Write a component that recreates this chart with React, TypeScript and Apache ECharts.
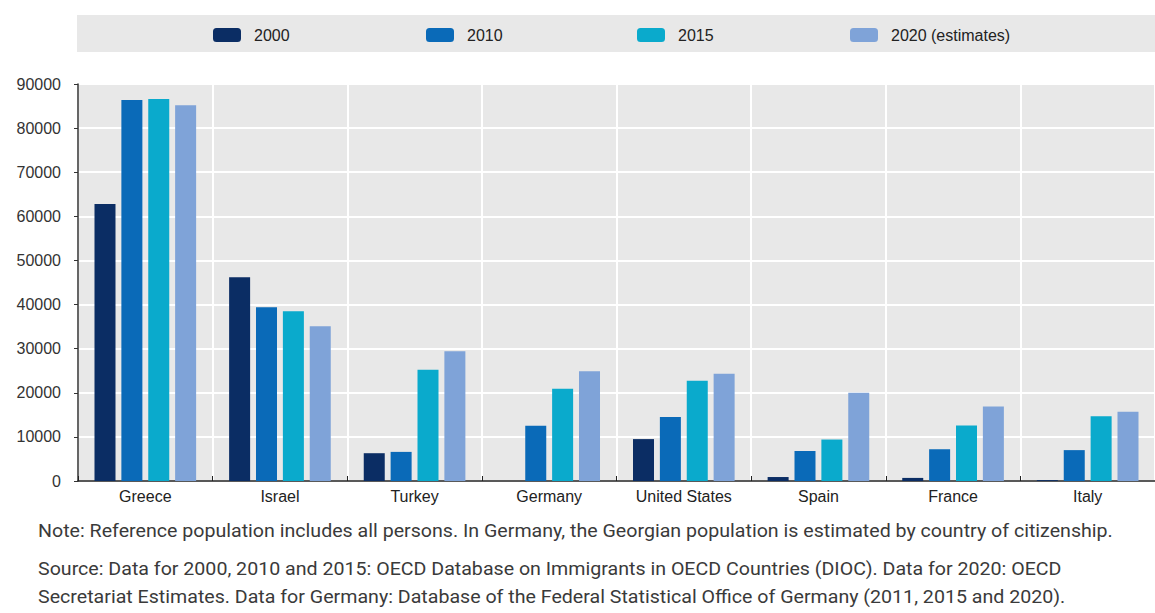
import React, { useEffect, useRef } from "react";
import * as echarts from "echarts";

const categories = ["Greece", "Israel", "Turkey", "Germany", "United States", "Spain", "France", "Italy"];
const seriesNames = ["2000", "2010", "2015", "2020 (estimates)"];
const v2000 = [62800, 46200, 6300, 0, 9500, 900, 700, 200];
const v2010 = [86400, 39400, 6600, 12500, 14500, 6800, 7200, 7000];
const v2015 = [86600, 38500, 25200, 20900, 22700, 9400, 12600, 14700];
const v2020 = [85200, 35100, 29400, 24900, 24300, 20000, 16900, 15700];
const colors = ["#0b2d64", "#0a6ab8", "#0aaacc", "#7fa3d8"];
const noteLines = [
  "Note: Reference population includes all persons. In Germany, the Georgian population is estimated by country of citizenship.",
  "Source: Data for 2000, 2010 and 2015: OECD Database on Immigrants in OECD Countries (DIOC). Data for 2020: OECD",
  "Secretariat Estimates. Data for Germany: Database of the Federal Statistical Office of Germany (2011, 2015 and 2020).",
];

const SANS = "'Liberation Sans', Arial, sans-serif";

export default function App() {
  const ref = useRef<HTMLDivElement>(null);
  useEffect(() => {
    if (!ref.current) return;
    const chart = echarts.init(ref.current, null, { renderer: "svg" });
    const values = [v2000, v2010, v2015, v2020];
    const legendLefts = [213, 426, 637, 850];
    chart.setOption({
      animation: false,
      backgroundColor: "#ffffff",
      color: colors,
      graphic: [
        { type: "rect", left: 77, top: 15, shape: { width: 1078, height: 37 }, style: { fill: "#e8e8e8" }, z: -10 },
        ...noteLines.map((t, i) => ({
          type: "text",
          x: 38,
          y: [531, 569, 597][i],
          scaleX: 1.09,
          style: { text: t, font: "18px Roboto", fill: "#3a3a3a", textVerticalAlign: "middle" },
        })),
      ],
      legend: seriesNames.map((n, i) => ({
        data: [n],
        left: legendLefts[i],
        top: 27,
        padding: 0,
        itemWidth: 28,
        itemHeight: 14,
        itemStyle: { borderWidth: 0 },
        textStyle: { fontFamily: SANS, fontSize: 16, color: "#222", padding: [0, 0, 0, 8] },
      })),
      grid: {
        left: 78,
        right: 0,
        top: 84,
        bottom: 132,
        show: true,
        backgroundColor: "#e8e8e8",
        borderWidth: 0,
      },
      xAxis: {
        type: "category",
        data: categories,
        axisLine: { show: true, lineStyle: { color: "#222", width: 1.5 } },
        axisTick: { show: true, inside: true, length: 5, lineStyle: { color: "#222" } },
        axisLabel: { fontFamily: SANS, fontSize: 16, color: "#222", margin: 7 },
        splitLine: { show: true, lineStyle: { color: "#ffffff", width: 2 } },
      },
      yAxis: {
        type: "value",
        min: 0,
        max: 90000,
        interval: 10000,
        axisLine: { show: true, lineStyle: { color: "#333", width: 1.5 } },
        axisTick: { show: true, inside: false, length: 4, lineStyle: { color: "#333" } },
        axisLabel: { fontFamily: SANS, fontSize: 16, color: "#333", margin: 17, formatter: (v: number) => String(v) },
        splitLine: { show: true, lineStyle: { color: "#ffffff", width: 2 } },
      },
      series: seriesNames.map((n, i) => ({
        name: n,
        type: "bar",
        data: values[i],
        barWidth: 21,
        barGap: "28%",
        itemStyle: { color: colors[i] },
      })),
    });
    return () => chart.dispose();
  }, []);
  return <div ref={ref} style={{ position: "fixed", left: 0, top: 0, width: 1155, height: 613 }} />;
}
